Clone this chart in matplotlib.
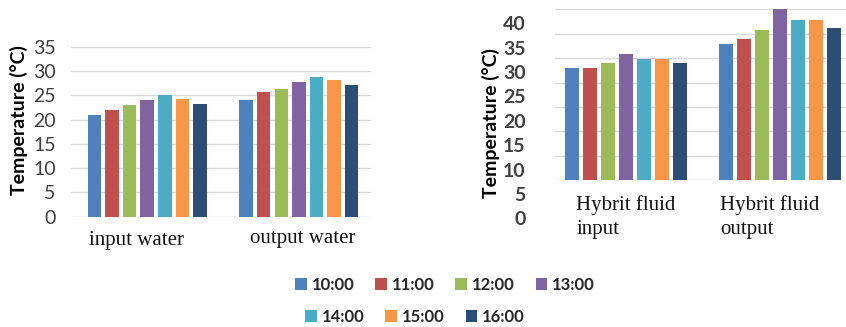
import matplotlib
matplotlib.use("Agg")
import matplotlib.pyplot as plt
import matplotlib.transforms as mtransforms
from matplotlib.patches import Patch
import numpy as np

# ---------------- data ----------------
times = ["10:00", "11:00", "12:00", "13:00", "14:00", "15:00", "16:00"]
colors = ["#4F81BD", "#C0504D", "#9BBB59", "#8064A2", "#4BACC6", "#F79646", "#2C4D75"]

water_categories = ["input water", "output water"]
water_input = [21.0, 22.0, 23.0, 24.0, 25.0, 24.3, 23.3]
water_output = [24.0, 25.6, 26.2, 27.8, 28.7, 28.1, 27.2]
water_ticks = [0, 5, 10, 15, 20, 25, 30, 35]

fluid_categories = ["Hybrit fluid\ninput", "Hybrit fluid\noutput"]
fluid_input = [30.8, 30.8, 31.8, 33.8, 32.7, 32.7, 31.8]
fluid_output = [35.7, 36.7, 38.7, 43.5, 40.6, 40.6, 39.0]
fluid_ticks = [0, 5, 10, 15, 20, 25, 30, 35, 40]

W, H = 846, 327
fig = plt.figure(figsize=(W / 100, H / 100), dpi=100)

def fx(px):
    return px / W

def fy(py):
    return 1 - py / H

grid_color = "#D9D9D9"
tick_color = "#404040"
sans = ["Lato", "DejaVu Sans"]
serif = ["Liberation Serif", "DejaVu Serif"]

def draw_bars(ax, series_by_group, pitch, width):
    x = np.arange(len(series_by_group))
    for i, (t, c) in enumerate(zip(times, colors)):
        heights = [grp[i] for grp in series_by_group]
        ax.bar(x + (i - 3) * pitch, heights, width=width, color=c, zorder=3, linewidth=0)

# ---------------- left chart ----------------
axL = fig.add_axes([fx(71), fy(216.7), fx(370.7 - 71), fy(46.7) - fy(216.7)])
draw_bars(axL, [water_input, water_output], 0.116, 0.089)
axL.set_ylim(0, 35)
axL.set_xlim(-0.502, 1.473)
axL.set_yticks(water_ticks)
axL.set_yticklabels([str(v) for v in water_ticks], fontsize=14, color=tick_color, family=sans)
axL.yaxis.grid(True, color=grid_color, linewidth=1.0, zorder=0)
axL.tick_params(axis="y", length=0, pad=11)
axL.set_xticks([])
for s in axL.spines.values():
    s.set_visible(False)
axL.set_axisbelow(True)
axL.set_ylabel("Temperature (°C)", fontsize=14, fontweight="bold", family=sans, color="#000000")
axL.yaxis.set_label_coords(fx(28), fy(120), transform=fig.transFigure)
# category labels
trL = mtransforms.blended_transform_factory(axL.transData, fig.transFigure)
axL.text(0 - 0.07, fy(241), water_categories[0], transform=trL, ha="center", va="center",
         fontsize=15, family=serif, color="#111111")
axL.text(1 + 0.025, fy(238), water_categories[1], transform=trL, ha="center", va="center",
         fontsize=15, family=serif, color="#111111")

# ---------------- right chart ----------------
base = (218.3 - 180) / 4.875
top = base + (180 - 9.3) / 4.875
axR = fig.add_axes([fx(555), fy(180), fx(846 - 555), fy(9.3) - fy(180)])
draw_bars(axR, [fluid_input, fluid_output], 0.117, 0.091)
axR.set_ylim(base, top)
axR.set_xlim(-0.462, 1.426)
axR.set_yticks([base + 5 * k for k in range(8)])
axR.set_yticklabels([])
axR.yaxis.grid(True, color=grid_color, linewidth=1.0, zorder=0)
axR.tick_params(axis="y", length=0)
axR.set_xticks([])
for s in axR.spines.values():
    s.set_visible(False)
axR.set_axisbelow(True)

# tick labels of the right chart (offset from the grid as in the original)
axRL = fig.add_axes([fx(541), fy(218.3), 0.0005, fy(23.3) - fy(218.3)])
axRL.set_ylim(0, 40)
axRL.set_yticks(fluid_ticks)
axRL.set_yticklabels([str(v) for v in fluid_ticks], fontsize=14, fontweight="bold",
                     color=tick_color, family=sans)
axRL.tick_params(axis="y", length=0, pad=11)
axRL.set_xticks([])
for s in axRL.spines.values():
    s.set_visible(False)
axRL.patch.set_visible(False)
axRL.set_ylabel("Temperature (°C)", fontsize=14, fontweight="bold", family=sans, color="#000000")
axRL.yaxis.set_label_coords(fx(500), fy(123), transform=fig.transFigure)

trR = mtransforms.blended_transform_factory(axR.transData, fig.transFigure)
axR.text(-0.325, fy(217), fluid_categories[0], transform=trR, ha="left", va="center",
         fontsize=15, family=serif, color="#111111", linespacing=1.3)
axR.text(0.61, fy(217), fluid_categories[1], transform=trR, ha="left", va="center",
         fontsize=15, family=serif, color="#111111", linespacing=1.3)

# ---------------- legend ----------------
handles = [Patch(facecolor=c, edgecolor="none", label=t) for t, c in zip(times, colors)]
leg_kw = dict(frameon=False, handlelength=0.7, handleheight=0.7, handletextpad=0.3,
              columnspacing=1.25, borderpad=0, borderaxespad=0,
              prop={"family": sans, "weight": "bold", "size": 12})
leg1 = fig.legend(handles=handles[:4], loc="center", ncol=4,
                  bbox_to_anchor=(fx(445), fy(285)), **leg_kw)
for t in leg1.get_texts():
    t.set_color("#262626")
leg2 = fig.legend(handles=handles[4:], loc="center", ncol=3,
                  bbox_to_anchor=(fx(415), fy(316.5)), **leg_kw)
for t in leg2.get_texts():
    t.set_color("#262626")

fig.savefig("out.png", dpi=100)
